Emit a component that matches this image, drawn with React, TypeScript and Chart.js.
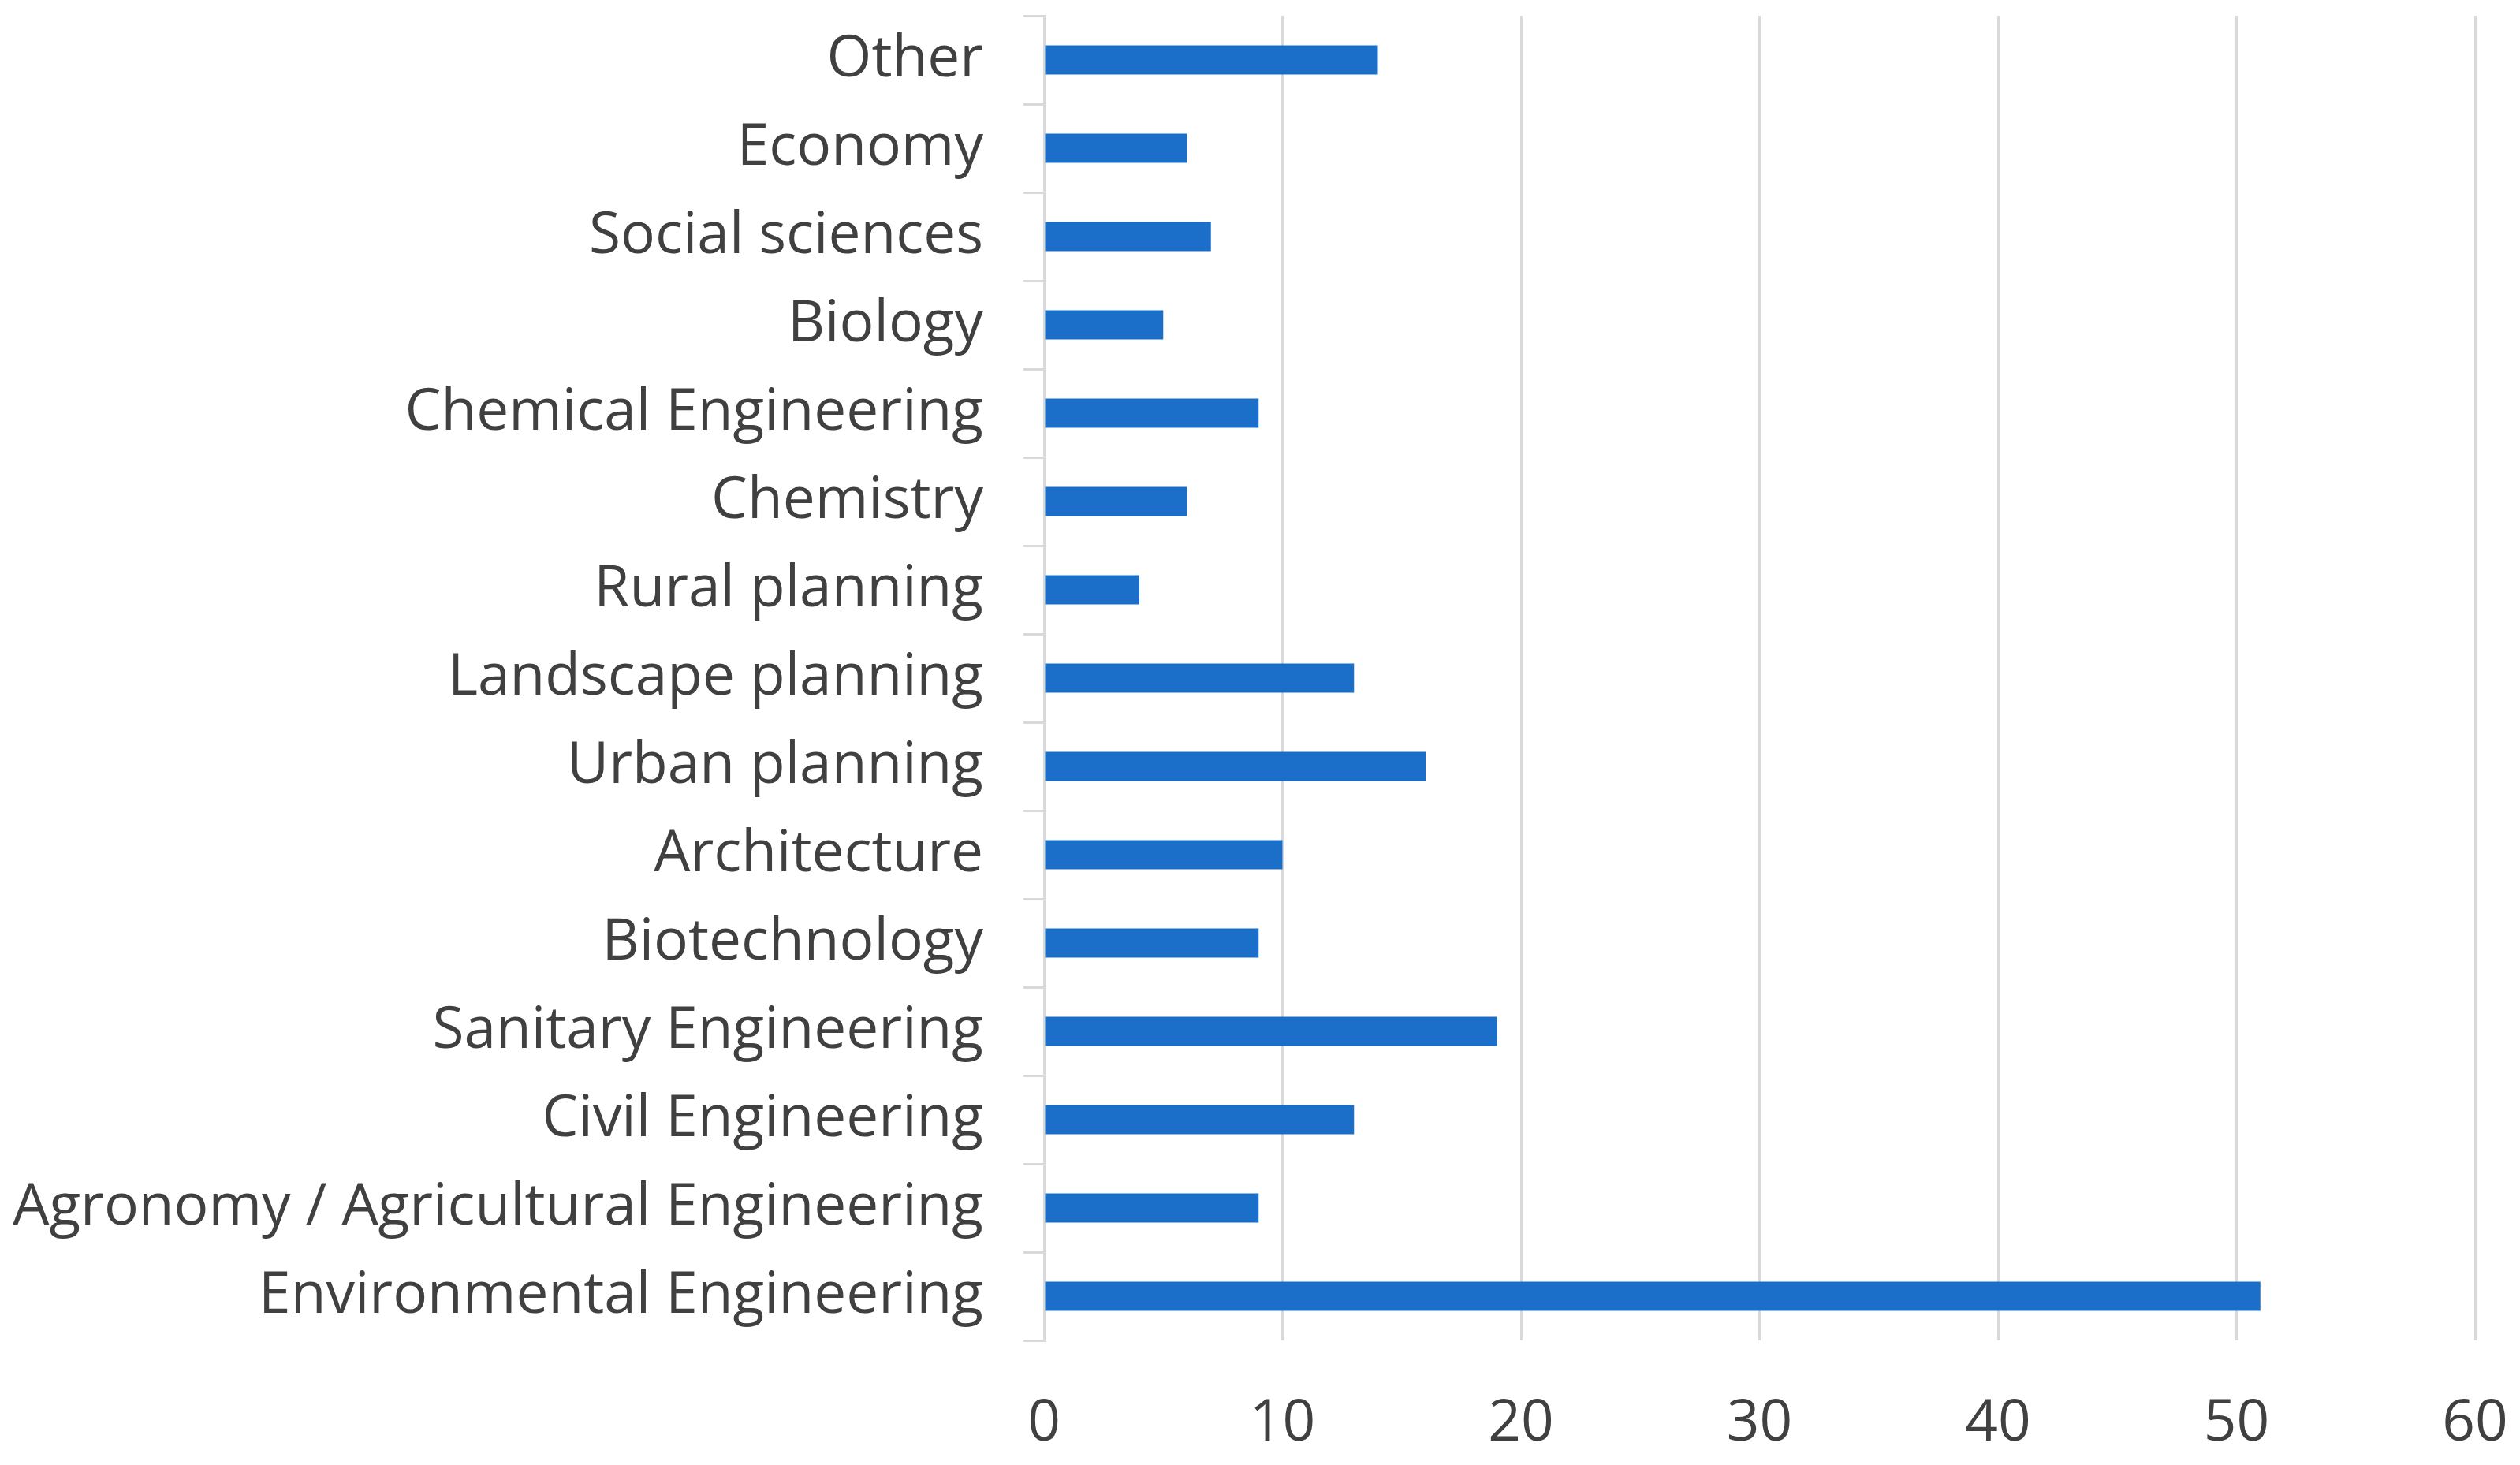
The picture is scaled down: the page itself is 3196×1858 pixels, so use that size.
import React, { useEffect, useRef } from 'react';
import Chart from 'chart.js/auto';

// categories, top to bottom as they appear
const fields: string[] = [
  'Other',
  'Economy',
  'Social sciences',
  'Biology',
  'Chemical Engineering',
  'Chemistry',
  'Rural planning',
  'Landscape planning',
  'Urban planning',
  'Architecture',
  'Biotechnology',
  'Sanitary Engineering',
  'Civil Engineering',
  'Agronomy / Agricultural Engineering',
  'Environmental Engineering',
];

const counts: number[] = [14, 6, 7, 5, 9, 6, 4, 13, 16, 10, 9, 19, 13, 9, 51];

const xMin = 0;
const xMax = 60;
const xStep = 10;

const FONT = '"Open Sans", "Noto Sans", sans-serif';
const TEXT = '#404040';
const GRID = '#d9d9d9';

// the label padding would otherwise be added around the plot area
const noScalePadding = (scale: any) => {
  scale.paddingTop = 0;
  scale.paddingBottom = 0;
  scale.paddingLeft = 0;
  scale.paddingRight = 0;
};

const App: React.FC = () => {
  const canvasRef = useRef<HTMLCanvasElement>(null);
  const chartRef = useRef<Chart | null>(null);

  useEffect(() => {
    if (!canvasRef.current) return;
    if (chartRef.current) chartRef.current.destroy();

    const ctx = canvasRef.current.getContext('2d');
    if (!ctx) return;

    chartRef.current = new Chart(ctx, {
      type: 'bar',
      data: {
        labels: fields,
        datasets: [{
          label: 'Count',
          data: counts,
          backgroundColor: '#1c6fc9',
          borderWidth: 0,
          barPercentage: 0.33,
          categoryPercentage: 1.0,
        }],
      },
      options: {
        indexAxis: 'y',
        responsive: true,
        maintainAspectRatio: false,
        animation: false,
        devicePixelRatio: 1,
        layout: { padding: { top: 20, right: 57, left: 0, bottom: 0 } },
        plugins: {
          legend: { display: false },
          tooltip: { enabled: false },
        },
        scales: {
          x: {
            min: xMin,
            max: xMax,
            ticks: {
              stepSize: xStep,
              color: TEXT,
              font: { family: FONT, size: 73 },
              padding: 62,
            },
            grid: { color: GRID, lineWidth: 3, drawTicks: false },
            border: { display: false },
            afterFit: (scale: any) => {
              scale.height = 158;
              noScalePadding(scale);
            },
          },
          y: {
            ticks: {
              color: TEXT,
              font: { family: FONT, size: 73 },
              padding: 51,
            },
            grid: {
              drawOnChartArea: false,
              drawTicks: true,
              tickLength: 26,
              color: GRID,
              lineWidth: 3,
            },
            border: { display: true, color: GRID, width: 3 },
            afterFit: (scale: any) => {
              scale.width = 1324;
              noScalePadding(scale);
            },
          },
        },
      },
    });

    return () => {
      if (chartRef.current) {
        chartRef.current.destroy();
        chartRef.current = null;
      }
    };
  }, []);

  return (
    <div style={{ position: 'absolute', left: 0, top: 0, width: '3196px', height: '1858px', background: '#fff' }}>
      <canvas ref={canvasRef}></canvas>
    </div>
  );
};

export default App;
